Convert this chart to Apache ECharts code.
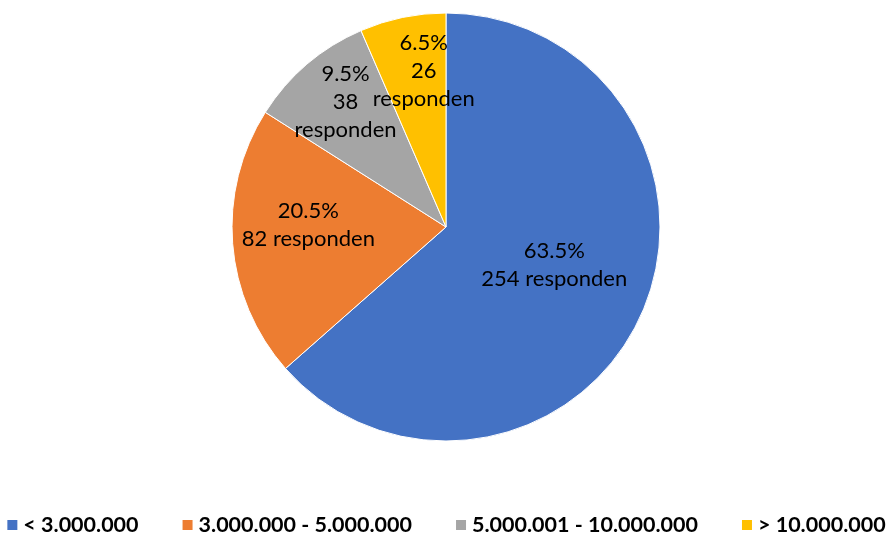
<!DOCTYPE html>
<html>
<head>
<meta charset="utf-8">
<script src="https://cdn.jsdelivr.net/npm/echarts@6/dist/echarts.min.js"></script>
<style>
  html, body { margin: 0; padding: 0; background: #fff; }
  #chart { width: 891px; height: 538px; }
</style>
</head>
<body>
<div id="chart"></div>
<script>
// Income groups of respondents
const categories = ['< 3.000.000', '3.000.000 - 5.000.000', '5.000.001 - 10.000.000', '> 10.000.000'];
const respondents = [254, 82, 38, 26];
const colors = ['#4472C4', '#ED7D31', '#A5A5A5', '#FFC000'];
// label nudges from the default inside position, per slice
const labelOffsets = [[8, -7], [-28, -11], [-29, -41], [0, -48]];

const total = respondents.reduce((a, b) => a + b, 0);

const chart = echarts.init(document.getElementById('chart'));
chart.setOption({
  animation: false,
  color: colors,
  legend: {
    top: 514,
    left: 'center',
    width: 891,
    padding: 0,
    itemWidth: 12,
    itemHeight: 12,
    itemGap: 42,
    icon: 'rect',
    textStyle: { fontFamily: 'Lato', fontWeight: 'bold', fontSize: 21.5, color: '#000' },
    data: categories
  },
  series: [{
    type: 'pie',
    center: [446, 227],
    radius: 214,
    startAngle: 90,
    clockwise: true,
    avoidLabelOverlap: false,
    itemStyle: { borderColor: '#fff', borderWidth: 1 },
    label: {
      position: 'inside',
      fontFamily: 'Lato',
      fontSize: 22,
      lineHeight: 28,
      color: '#000',
      overflow: 'none',
      formatter: (p) => {
        const pct = (p.value / total * 100).toFixed(1) + '%';
        return p.value / total < 0.1
          ? pct + '\n' + p.value + '\nresponden'
          : pct + '\n' + p.value + ' responden';
      }
    },
    labelLayout: { hideOverlap: false },
    labelLine: { show: false },
    data: categories.map((name, i) => ({
      name,
      value: respondents[i],
      label: { offset: labelOffsets[i] }
    }))
  }]
});
</script>
</body>
</html>
